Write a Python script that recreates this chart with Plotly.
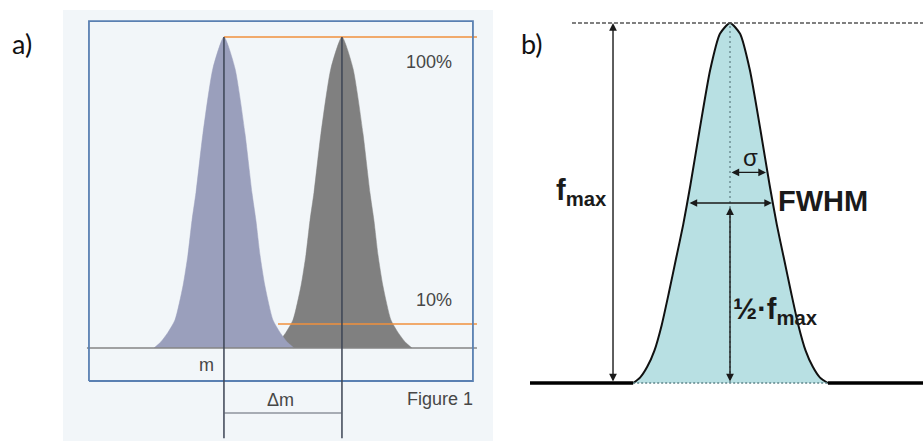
import plotly.graph_objects as go

# ---------------- Panel a data (mass axis in units, intensity in %) ----------------
PEAK_CENTERS = [100.0, 101.0]            # m and m + Δm
PEAK_COLORS = ["#9a9fbc", "#808080"]
PEAK_OFFSET = [-0.593, -0.534, -0.475, -0.415, -0.347, -0.305, -0.271, -0.237, -0.178, -0.093, 0.0,
               0.093, 0.178, 0.237, 0.271, 0.305, 0.347, 0.415, 0.475, 0.534, 0.593]
PEAK_HEIGHT = [0, 2, 5, 9, 20, 30, 41, 50, 69, 90, 100,
               90, 69, 50, 41, 30, 20, 9, 5, 2, 0]
LEVELS = [100, 7.7]                       # 100 % and 10 % guide lines
LEVEL_START = [100.0, 100.458]
LEVEL_LABELS = ["100%", "10%"]
BOX_X = [98.856, 102.110]
BOX_Y = [-10.6, 105.1]
BASE_X = [98.839, 102.144]
MARKER_Y = [100, -29.0]
DM_Y = -20.9

# ---------------- Panel b data (x in σ units, f / f_max) ----------------
CURVE_X = [-2.69, -2.5, -2.3, -2.1, -1.9, -1.7, -1.5, -1.3, -1.1, -0.85, -0.55, -0.28, 0.0,
           0.28, 0.55, 0.85, 1.1, 1.3, 1.5, 1.7, 1.9, 2.1, 2.3, 2.5, 2.72]
CURVE_F = [0.0, 0.015, 0.045, 0.09, 0.16, 0.25, 0.345, 0.44, 0.55, 0.70, 0.87, 0.97, 1.0,
           0.97, 0.87, 0.70, 0.55, 0.44, 0.345, 0.25, 0.16, 0.09, 0.045, 0.015, 0.0]
B_XMIN, B_XMAX = -5.556, 5.361
FMAX_ARROW_X = -3.25
TOP_LINE_START = -4.39
SIGMA = 1.0
SIGMA_LEVEL = 0.585
HALF_WIDTH = 1.167
HALF_LEVEL = 0.5

W, H = 923, 441
FONT_A = "Liberation Sans, Arial, sans-serif"

fig = go.Figure()

# ---- panel a ----
for c, col in zip(reversed(PEAK_CENTERS), reversed(PEAK_COLORS)):
    fig.add_trace(go.Scatter(x=[c + o for o in PEAK_OFFSET], y=PEAK_HEIGHT, mode="lines",
                             line=dict(color=col, width=0.5, shape="spline", smoothing=0.6),
                             fill="tozeroy", fillcolor=col, xaxis="x", yaxis="y", hoverinfo="skip"))
# baseline
fig.add_trace(go.Scatter(x=BASE_X, y=[0, 0], mode="lines", line=dict(color="#858585", width=1.5),
                         xaxis="x", yaxis="y"))
# orange level lines
for lv, st in zip(LEVELS, LEVEL_START):
    fig.add_trace(go.Scatter(x=[st, BASE_X[1]], y=[lv, lv], mode="lines",
                             line=dict(color="#f0903c", width=1.5), xaxis="x", yaxis="y"))
# box
fig.add_trace(go.Scatter(x=[BOX_X[0], BOX_X[1], BOX_X[1], BOX_X[0], BOX_X[0]],
                         y=[BOX_Y[0], BOX_Y[0], BOX_Y[1], BOX_Y[1], BOX_Y[0]], mode="lines",
                         line=dict(color="#5a80b2", width=1.8), xaxis="x", yaxis="y"))
# vertical markers
for c in PEAK_CENTERS:
    fig.add_trace(go.Scatter(x=[c, c], y=MARKER_Y, mode="lines",
                             line=dict(color="#3c4454", width=1.5), xaxis="x", yaxis="y"))
# Δm line
fig.add_trace(go.Scatter(x=PEAK_CENTERS, y=[DM_Y, DM_Y], mode="lines",
                         line=dict(color="#5d6370", width=1.2), xaxis="x", yaxis="y"))

ann = []
txt_a = dict(family=FONT_A, size=18, color="#474747")
ann.append(dict(x=101.737, y=92.0, xref="x", yref="y", text=LEVEL_LABELS[0], showarrow=False, font=txt_a))
ann.append(dict(x=101.78, y=15.4, xref="x", yref="y", text=LEVEL_LABELS[1], showarrow=False, font=txt_a))
ann.append(dict(x=99.93, y=-5.5, xref="x", yref="y", text="m", showarrow=False, xanchor="right", font=txt_a))
ann.append(dict(x=(PEAK_CENTERS[0] + PEAK_CENTERS[1]) / 2 - 0.017, y=-16.7, xref="x", yref="y", text="Δm",
                showarrow=False, font=txt_a))
ann.append(dict(x=101.83, y=-16.4, xref="x", yref="y", text="Figure 1", showarrow=False, font=txt_a))

# ---- panel b ----
fig.add_trace(go.Scatter(x=CURVE_X, y=CURVE_F, mode="lines", fill="toself", fillcolor="#b8e0e3",
                         line=dict(color="#111111", width=2, shape="spline", smoothing=0.6),
                         xaxis="x2", yaxis="y2"))
# baseline segments
fig.add_trace(go.Scatter(x=[B_XMIN, CURVE_X[0]], y=[0, 0], mode="lines",
                         line=dict(color="#000000", width=3.5), xaxis="x2", yaxis="y2"))
fig.add_trace(go.Scatter(x=[CURVE_X[-1], B_XMAX], y=[0, 0], mode="lines",
                         line=dict(color="#000000", width=3.5), xaxis="x2", yaxis="y2"))
fig.add_trace(go.Scatter(x=[CURVE_X[0], CURVE_X[-1]], y=[0, 0], mode="lines",
                         line=dict(color="#5f858a", width=1.5, dash="2px,2px"), xaxis="x2", yaxis="y2"))
# top dashed line
fig.add_trace(go.Scatter(x=[TOP_LINE_START, B_XMAX], y=[1, 1], mode="lines",
                         line=dict(color="#555555", width=1.6, dash="4px,2px"), xaxis="x2", yaxis="y2"))
# center dotted line
fig.add_trace(go.Scatter(x=[0, 0], y=[0, 1], mode="lines",
                         line=dict(color="#6d8f94", width=1.5, dash="2px,3px"), xaxis="x2", yaxis="y2"))

arr = dict(xref="x2", yref="y2", axref="x2", ayref="y2", text="", showarrow=True,
           arrowhead=2, arrowsize=1.1, arrowwidth=1.4, arrowcolor="#1a1a1a", arrowside="end+start",
           standoff=0, startstandoff=0)
ann.append(dict(arr, x=FMAX_ARROW_X, y=1, ax=FMAX_ARROW_X, ay=0))
ann.append(dict(arr, x=SIGMA, y=SIGMA_LEVEL, ax=0, ay=SIGMA_LEVEL))
ann.append(dict(arr, x=HALF_WIDTH, y=HALF_LEVEL, ax=-HALF_WIDTH, ay=HALF_LEVEL))
ann.append(dict(arr, x=0, y=HALF_LEVEL - 0.012, ax=0, ay=0))

bold = dict(family=FONT_A, size=29, color="#1a1a1a")
ann.append(dict(x=-3.36, y=0.53, xref="x2", yref="y2", text="<b>f</b><sub><b>max</b></sub>",
                showarrow=False, xanchor="right", yanchor="middle", font=bold))
ann.append(dict(x=1.28, y=0.505, xref="x2", yref="y2", text="<b>FWHM</b>", showarrow=False,
                xanchor="left", yanchor="middle", font=dict(bold, size=29)))
ann.append(dict(x=0.58, y=0.625, xref="x2", yref="y2", text="σ", showarrow=False,
                font=dict(family=FONT_A, size=24, color="#1a1a1a")))
ann.append(dict(x=0.04, y=0.2, xref="x2", yref="y2", text="<b>½·f</b><sub><b>max</b></sub>",
                showarrow=False, xanchor="left", yanchor="middle", font=bold))

# panel letters
lab = dict(family="Lato, Open Sans, sans-serif", size=27, color="#111111")
ann.append(dict(x=10 / W, y=1 - 43 / H, xref="paper", yref="paper", text="a)", showarrow=False,
                xanchor="left", yanchor="middle", font=lab))
ann.append(dict(x=519 / W, y=1 - 43 / H, xref="paper", yref="paper", text="b)", showarrow=False,
                xanchor="left", yanchor="middle", font=lab))

shapes = [dict(type="rect", xref="x domain", yref="y domain", x0=0, x1=1, y0=0, y1=1,
               fillcolor="#f2f6f9", line=dict(width=0), layer="below")]

ax_common = dict(visible=False, showgrid=False, zeroline=False, fixedrange=True)
fig.update_layout(
    width=W, height=H, margin=dict(l=0, r=0, t=0, b=0),
    paper_bgcolor="white", plot_bgcolor="rgba(0,0,0,0)", showlegend=False,
    xaxis=dict(ax_common, domain=[63 / W, 493 / W], range=[98.636, 102.280]),
    yaxis=dict(ax_common, domain=[0, 431 / H], range=[-29.9, 108.7]),
    xaxis2=dict(ax_common, domain=[530 / W, 1], range=[B_XMIN, B_XMAX], anchor="y2"),
    yaxis2=dict(ax_common, domain=[0, 431 / H], range=[-0.1611, 1.0361], anchor="x2"),
    annotations=ann, shapes=shapes,
)

fig.write_html("out.html", config={"displayModeBar": False},
               post_script="document.body.style.margin='0';document.body.style.overflow='hidden';")
